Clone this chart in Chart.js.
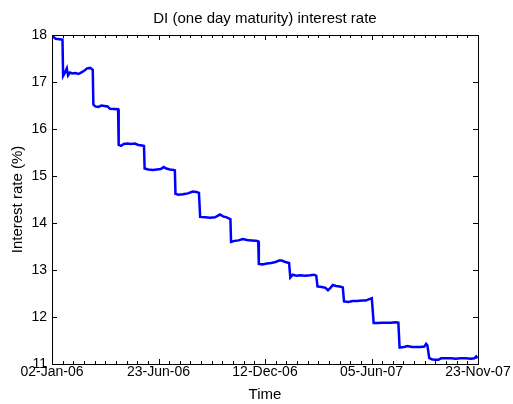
<!DOCTYPE html>
<html>
<head>
<meta charset="utf-8">
<script src="https://cdn.jsdelivr.net/npm/chart.js@4"></script>
<style>
  body { margin: 0; background: #fff; }
  #wrap { width: 513px; height: 404px; position: relative; }
</style>
</head>
<body>
<div id="wrap"><canvas id="plot"></canvas></div>
<script>
// days counted from 02-Jan-06, rate in %
const days = [0, 3, 6, 12, 17, 18, 21, 24, 26, 29, 33, 38, 43, 47, 52, 57, 62, 66,
  67, 70, 75, 80, 85, 90, 94, 107,
  108, 112, 116, 122, 128, 134, 140, 146, 149,
  150, 156, 163, 170, 176, 181, 185, 191, 197, 199,
  200, 205, 212, 220, 228, 234, 238,
  240, 248, 256, 264, 272, 277, 283, 289,
  290, 296, 302, 309, 316, 323, 330, 334,
  335, 341, 348, 355, 362, 368, 372, 378, 384,
  386, 390, 396, 402, 410, 418, 424, 428,
  430, 437, 443, 447, 451, 455, 460, 466, 471,
  473, 480, 487, 494, 502, 508, 514, 518,
  521, 528, 535, 542, 549, 556, 561,
  563, 570, 576, 583, 590, 597, 603, 606, 608,
  611, 615, 620, 626, 630, 638, 646, 654, 662, 670, 678, 684, 687, 689]
const rate = [17.98, 17.95, 17.92, 17.91, 17.90, 17.13, 17.20, 17.29, 17.14, 17.20, 17.18, 17.19, 17.17, 17.20, 17.24, 17.29, 17.30, 17.26,
  16.52, 16.48, 16.47, 16.50, 16.49, 16.48, 16.43, 16.42,
  15.66, 15.64, 15.68, 15.69, 15.68, 15.69, 15.66, 15.65, 15.64,
  15.16, 15.14, 15.13, 15.14, 15.15, 15.19, 15.16, 15.14, 15.13, 15.12,
  14.62, 14.60, 14.61, 14.63, 14.67, 14.66, 14.64,
  14.13, 14.12, 14.11, 14.12, 14.18, 14.14, 14.12, 14.08,
  13.60, 13.62, 13.63, 13.66, 13.64, 13.63, 13.62, 13.61,
  13.13, 13.12, 13.14, 13.15, 13.17, 13.20, 13.20, 13.17, 13.15,
  12.84, 12.90, 12.88, 12.89, 12.88, 12.89, 12.90, 12.88,
  12.65, 12.64, 12.62, 12.57, 12.62, 12.68, 12.66, 12.65, 12.63,
  12.33, 12.32, 12.34, 12.34, 12.35, 12.35, 12.38, 12.40,
  11.87, 11.87, 11.88, 11.88, 11.88, 11.89, 11.88,
  11.35, 11.36, 11.38, 11.36, 11.36, 11.36, 11.37, 11.43, 11.40,
  11.13, 11.10, 11.09, 11.09, 11.12, 11.12, 11.12, 11.11, 11.12, 11.12, 11.11, 11.12, 11.16, 11.12]

const xTickDays = [0, 172.5, 345, 517.5, 690]
const xTickLabels = ['02-Jan-06', '23-Jun-06', '12-Dec-06', '05-Jun-07', '23-Nov-07']
const yTicks = [11, 12, 13, 14, 15, 16, 17, 18]

const tickFont = { family: "'Liberation Sans Narrow', 'Liberation Sans', Arial", size: 14 }
const labelFont = { family: "'Liberation Sans', Arial", size: 15 }

Chart.defaults.color = '#000'

// matlab style box with inward ticks (10 minor per major on x)
const boxTicks = {
  id: 'boxTicks',
  afterDraw(chart) {
    const { ctx, chartArea: a, scales: { x, y } } = chart
    ctx.save()
    ctx.strokeStyle = '#000'
    ctx.lineWidth = 1
    ctx.beginPath()
    for (let k = 0; k < xTickDays.length - 1; k++) {
      const step = (xTickDays[k + 1] - xTickDays[k]) / 10
      for (let m = 0; m <= 10; m++) {
        const px = Math.round(x.getPixelForValue(xTickDays[k] + step * m)) + 0.5
        const len = (m == 0 || m == 10) ? 5 : 3
        ctx.moveTo(px, a.bottom); ctx.lineTo(px, a.bottom - len)
        ctx.moveTo(px, a.top); ctx.lineTo(px, a.top + len)
      }
    }
    yTicks.forEach(v => {
      const py = Math.round(y.getPixelForValue(v)) + 0.5
      ctx.moveTo(a.left, py); ctx.lineTo(a.left + 5, py)
      ctx.moveTo(a.right, py); ctx.lineTo(a.right - 5, py)
    })
    ctx.stroke()
    ctx.strokeRect(Math.round(a.left) + 0.5, Math.round(a.top) + 0.5, Math.round(a.width), Math.round(a.height))
    ctx.restore()
  }
}

new Chart(document.getElementById('plot'), {
  type: 'line',
  data: {
    datasets: [{
      data: days.map((d, i) => ({ x: d, y: rate[i] })),
      borderColor: '#0000ff',
      borderWidth: 2.5,
      pointRadius: 0,
      tension: 0,
      fill: false
    }]
  },
  options: {
    responsive: true,
    maintainAspectRatio: false,
    animation: false,
    layout: { padding: { left: 0, right: 35, top: 0, bottom: 0 } },
    plugins: {
      legend: { display: false },
      tooltip: { enabled: false }
    },
    scales: {
      x: {
        type: 'linear',
        min: 0,
        max: 690,
        afterBuildTicks: s => { s.ticks = xTickDays.map(v => ({ value: v })) },
        afterFit: s => { s.height = 40 },
        ticks: {
          autoSkip: false,
          maxRotation: 0,
          padding: 0,
          font: tickFont,
          callback: (v, i) => xTickLabels[i]
        },
        grid: { display: false, drawTicks: false },
        border: { display: false },
        title: { display: true, text: 'Time', font: labelFont, padding: { top: 0, bottom: 0 } }
      },
      // top axis only carries the title so it centres over the plot box
      top: {
        type: 'linear',
        position: 'top',
        min: 0,
        max: 690,
        afterFit: s => { s.height = 35 },
        ticks: { display: false },
        grid: { display: false, drawTicks: false },
        border: { display: false },
        title: { display: true, text: 'DI (one day maturity) interest rate', font: labelFont, padding: { top: 10, bottom: 0 } }
      },
      y: {
        min: 11,
        max: 18,
        afterBuildTicks: s => { s.ticks = yTicks.map(v => ({ value: v })) },
        afterFit: s => { s.width = 52 },
        ticks: { padding: 5, font: tickFont },
        grid: { display: false, drawTicks: false },
        border: { display: false },
        title: { display: true, text: 'Interest rate (%)', font: labelFont, padding: { top: 9, bottom: 0 } }
      }
    }
  },
  plugins: [boxTicks]
})
</script>
</body>
</html>
